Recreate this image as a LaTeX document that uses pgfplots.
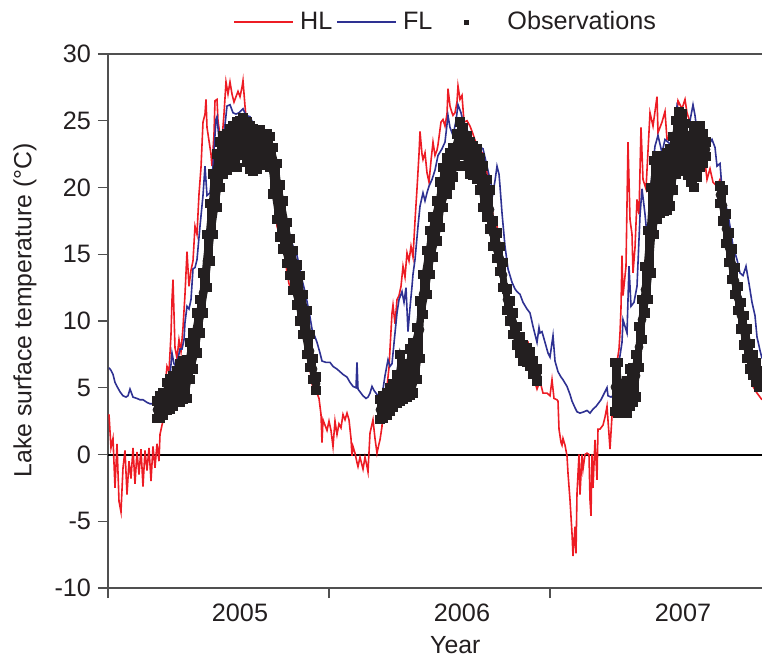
\documentclass[border=0pt]{standalone}
\usepackage{fontspec}
\setmainfont{Liberation Sans}
\usepackage{pgfplots}
\usepackage{pgfplotstable}
\pgfplotsset{compat=1.18}
\definecolor{hlred}{HTML}{ED1C24}
\definecolor{flblue}{HTML}{2E3192}
\definecolor{obsblk}{HTML}{231F20}
\definecolor{axgray}{HTML}{505050}
\pgfplotsset{
  line leg/.style={legend image code/.code={\draw[##1] (0bp,0bp) -- (29.5bp,0bp);}},
  obs leg/.style={legend image code/.code={\path[draw=none,fill=none] (0bp,0bp) -- (32.5bp,0bp); \fill[obsblk] (13.75bp,-1bp) rectangle (15.75bp,1bp);}},
  obsedge/.style={draw=obsblk, line width=1.3bp, mark=square*, mark size=2.1bp,
     mark options={solid, fill=obsblk, draw=obsblk, line width=0pt}, forget plot},
  obsband/.style={obsblk, only marks, mark=none, forget plot,
     error bars/.cd, y dir=both, y explicit, error mark=none,
     error bar style={draw=obsblk, line width=2.6bp}},
}
% x is the horizontal position on the time axis (one year = 221 units)
\pgfplotstableread{
x U L
157 4.0 2.7
160 4.4 2.7
163 4.6 2.9
167 5.4 3.3
170 5.7 3.4
173 5.9 3.6
177 6.3 3.9
180 6.8 3.9
183 7.0 4.1
187 7.1 4.2
190 8.4 5.6
193 9.1 6.4
197 10.6 7.6
200 11.6 9.1
203 13.6 10.6
207 16.5 12.5
210 18.8 14.5
213 21.0 16.5
217 22.5 18.5
220 23.4 20.0
223 23.9 21.0
227 24.0 21.3
230 24.4 22.0
233 24.6 22.2
237 24.9 21.5
240 25.0 22.4
243 25.2 22.4
247 24.9 21.9
250 24.6 21.4
253 24.4 21.2
257 24.3 21.4
260 24.3 21.7
263 24.0 22.0
267 24.0 22.2
270 23.8 21.5
273 23.0 19.5
277 21.8 17.6
280 20.2 16.3
283 19.0 15.4
287 17.4 14.3
290 16.2 13.4
293 15.3 12.3
297 14.2 11.2
300 13.4 10.0
303 12.0 9.0
307 10.8 7.5
310 9.0 6.5
313 7.2 5.6
316 5.8 4.8
}\obsA
\pgfplotstableread{
x U L
380 4.1 2.6
383 4.4 2.7
387 4.6 2.9
390 5.0 3.2
393 5.3 3.5
397 6.0 3.8
400 7.5 4.0
403 6.6 4.1
407 6.8 4.3
410 7.9 4.4
413 8.4 4.6
417 9.5 5.6
420 11.5 7.2
423 13.5 10.5
427 15.3 12.0
430 16.8 13.5
433 17.8 14.8
437 19.0 16.0
440 20.4 17.0
443 21.5 18.5
447 22.2 19.5
450 22.6 20.2
453 23.0 20.8
457 24.0 21.6
460 24.9 22.5
463 24.5 22.4
467 23.9 21.6
470 23.4 21.0
473 23.1 20.9
477 22.9 20.6
480 22.2 19.8
483 21.6 18.5
487 20.6 17.8
490 19.8 16.9
493 17.5 15.6
497 16.6 14.7
500 15.6 13.7
503 14.4 12.5
507 12.4 10.8
510 11.5 10.0
513 10.6 9.0
517 9.6 8.2
520 8.8 7.6
523 8.2 7.0
527 8.0 6.9
530 7.7 6.6
533 7.0 6.0
537 6.4 5.5
}\obsB
\pgfplotstableread{
x U L
615 6.9 3.2
618 6.9 3.1
621 5.3 3.1
624 4.6 3.1
627 5.5 3.1
630 6.4 3.6
633 6.5 3.9
636 7.5 4.3
639 9.6 6.5
642 11.6 8.6
645 14.1 10.6
648 16.8 11.6
651 20.0 13.6
654 22.0 16.5
657 22.4 17.6
660 22.4 18.1
664 22.3 18.2
667 22.6 18.3
670 22.9 18.6
673 23.8 19.8
676 25.0 21.0
679 25.7 21.5
682 25.5 21.6
685 24.8 21.2
688 23.9 20.9
691 23.9 20.4
694 24.6 20.0
697 24.6 20.8
700 24.6 21.5
703 24.0 21.8
706 23.4 22.3
}\obsC
\pgfplotstableread{
x U L
720 20.1 18.8
723 19.8 17.5
726 18.0 15.8
729 16.6 14.4
732 15.4 13.1
735 14.0 12.0
738 12.6 10.8
741 11.4 9.4
744 10.4 8.2
747 9.4 7.2
750 8.3 6.4
753 7.5 5.9
756 6.9 5.4
759 6.3 5.0
}\obsD
\pgfplotstableread{
x y
109 3.0
111 0.5
113 1.2
115 -2.5
117 0.8
119 -3.5
121 -4.3
123 -1.0
125 0.3
127 -3.0
129 -0.5
131 -1.8
133 0.5
135 -2.2
137 0.2
139 -1.5
141 0.4
143 -2.4
145 0.3
147 -1.2
149 0.5
151 -2.0
153 0.6
155 -1.0
157 0.8
159 -0.5
160 1.5
162 2.2
163 2.5
164 4.4
166 5.8
167 6.6
169 6.2
171 9.0
172 11.6
173 13.1
175 8.0
177 7.2
179 8.6
181 7.7
183 9.5
185 12.0
187 15.2
189 12.6
191 13.8
193 14.5
195 17.1
197 16.5
199 19.5
201 21.5
203 24.9
205 25.5
206 26.6
207 24.5
209 23.5
211 22.5
212 21.6
214 24.0
215 26.5
217 26.6
218 25.0
220 23.9
222 23.6
224 25.5
226 27.9
228 27.0
230 27.9
232 27.0
234 26.4
236 26.8
238 27.2
240 26.8
242 27.5
243 28.0
245 26.1
247 24.5
249 25.0
251 24.4
253 24.6
256 24.2
258 24.0
260 23.6
263 23.3
266 23.5
268 23.0
270 22.9
272 21.8
273 20.6
275 19.0
277 17.1
279 16.6
281 16.1
283 15.6
285 14.8
287 13.6
289 12.8
291 12.3
293 12.1
295 11.9
297 11.9
299 11.2
301 11.0
303 10.1
305 9.0
307 8.0
309 7.0
311 5.8
313 4.9
315 4.7
317 4.6
319 4.2
321 3.0
322 0.9
323 2.6
325 2.2
327 1.8
329 2.5
331 1.8
333 0.6
335 2.5
337 1.5
339 2.3
341 2.0
343 3.0
345 2.6
347 3.1
349 2.6
351 1.2
352 -0.1
353 0.6
355 0.1
357 -0.6
358 -0.9
360 -0.2
362 -0.8
363 -1.1
365 -0.2
367 -0.9
368 -1.3
370 1.6
373 2.6
375 1.2
377 0.1
379 0.8
380 1.1
382 2.1
383 4.1
385 4.6
387 5.1
389 6.5
390 7.9
392 10.6
393 11.2
395 9.8
397 11.6
399 11.9
401 12.6
403 14.1
405 13.3
407 15.1
409 14.5
411 15.6
413 14.8
415 17.5
417 19.9
419 22.5
420 24.2
422 22.5
423 22.1
425 22.6
427 21.1
429 20.4
431 22.0
433 23.4
435 22.4
437 22.8
438 23.2
441 24.9
443 25.1
445 24.6
447 25.5
448 27.4
450 26.1
452 25.6
453 25.4
455 25.6
457 26.4
458 27.6
460 26.6
462 26.9
464 24.9
467 25.0
470 24.6
473 24.0
477 23.1
480 22.6
483 22.6
485 22.0
487 21.1
490 19.4
493 17.9
497 17.1
500 15.6
503 13.6
505 12.2
507 10.9
510 10.0
513 9.1
516 8.6
520 8.1
523 7.9
525 8.2
528 8.4
531 7.0
533 5.9
537 4.9
540 5.5
543 4.6
547 4.6
550 4.4
552 5.6
554 4.2
557 4.1
558 4.0
559 1.9
561 0.9
562 0.7
563 1.2
565 0.7
567 -0.1
568 -1.4
570 -3.4
572 -5.9
573 -7.6
575 -5.4
576 -7.4
577 -2.9
579 0.0
580 -3.0
582 0.0
583 -1.1
585 0.0
587 0.1
589 0.0
590 -3.4
591 -4.6
592 0.0
593 -2.5
595 1.1
597 -1.9
598 1.9
600 1.9
603 2.2
605 2.8
607 3.6
609 1.5
610 0.4
612 2.9
613 3.1
615 4.9
617 6.9
619 7.9
620 9.1
621 11.0
622 14.9
623 11.9
626 14.1
628 23.4
630 17.6
632 16.5
633 13.6
635 15.5
637 19.1
639 18.0
641 24.5
643 20.6
646 19.9
650 25.6
653 24.6
657 26.8
658 24.1
662 24.9
665 25.7
667 23.6
670 23.9
673 23.6
677 25.4
678 26.5
682 25.9
685 26.6
687 25.6
690 24.9
693 23.6
697 22.9
700 22.4
703 21.4
705 21.9
707 20.6
710 21.4
713 20.4
717 20.1
720 20.6
722 19.6
725 17.6
728 16.1
731 14.6
733 13.6
737 12.1
740 11.1
743 9.6
747 7.9
750 6.5
753 5.1
757 4.6
762 4.1
}\hldata
\pgfplotstableread{
x y
109 6.5
111 6.3
113 6.0
115 5.4
117 5.1
120 4.7
123 4.4
126 4.3
128 4.4
130 4.9
133 4.3
137 4.2
140 4.1
143 4.1
147 3.9
150 3.8
154 3.8
158 3.9
161 4.1
163 4.4
165 4.7
167 5.1
169 5.6
170 5.9
172 7.6
174 6.8
176 6.6
178 7.2
180 7.9
182 7.9
184 8.6
185 9.9
187 11.1
189 10.9
191 11.6
193 13.9
195 14.0
197 14.6
200 17.1
203 19.4
205 21.6
207 19.4
210 19.6
213 21.6
216 25.1
217 25.3
219 23.6
222 23.6
224 24.0
227 26.1
230 26.2
233 25.6
236 25.5
239 25.6
243 25.9
246 25.4
250 25.3
253 24.8
256 24.6
260 24.2
263 24.5
266 23.8
269 23.6
272 23.4
275 22.1
277 20.6
280 19.1
283 18.2
287 17.1
290 16.4
293 15.6
297 14.9
300 13.9
302 13.1
305 12.2
308 11.1
310 10.3
312 9.4
314 9.0
317 8.4
320 7.6
322 7.0
326 6.9
330 6.9
333 6.6
337 6.4
340 6.2
343 6.0
347 5.8
350 5.4
353 5.1
356 5.0
357 6.9
358 4.9
361 4.6
363 4.4
366 4.2
368 4.3
370 4.6
372 5.1
374 4.8
376 4.6
378 4.4
380 4.5
382 4.4
385 5.9
388 7.1
390 6.6
392 6.8
395 9.1
397 10.6
399 11.6
402 12.2
404 11.4
406 12.5
408 9.2
410 11.0
412 12.6
413 13.5
415 14.6
418 17.1
420 18.6
423 19.6
425 19.0
427 19.6
429 20.1
432 20.6
435 21.3
438 22.4
442 22.9
445 23.4
448 25.4
450 24.5
453 23.9
456 25.0
458 26.2
461 25.6
464 24.6
467 24.3
470 23.9
473 23.6
478 23.1
483 22.9
487 21.6
490 20.6
493 19.6
495 20.5
497 21.6
499 21.0
500 20.1
502 18.1
505 15.6
508 13.9
512 12.9
515 12.4
517 12.2
520 12.0
523 11.4
527 10.9
530 10.6
533 9.6
535 9.0
537 8.4
539 9.5
540 9.1
542 9.2
545 8.4
548 7.6
550 7.3
553 8.9
555 7.0
558 6.2
561 5.8
563 5.6
567 5.1
570 4.5
572 4.0
575 3.5
577 3.2
580 3.1
584 3.2
587 3.3
590 3.1
593 3.4
596 3.6
598 3.8
601 4.1
603 4.4
607 5.0
608 4.4
611 4.3
613 4.4
615 4.6
618 6.6
620 7.4
622 8.4
623 10.1
625 9.6
627 9.1
628 11.6
629 14.1
631 11.1
634 11.4
637 12.6
640 17.9
642 19.9
645 18.0
648 15.6
650 18.5
652 21.1
655 23.1
658 23.9
662 22.6
665 23.6
668 23.4
672 23.1
675 24.4
677 26.1
680 25.4
683 25.6
687 24.6
690 25.0
693 26.2
695 25.4
698 23.6
702 22.4
705 21.9
708 23.1
712 23.6
715 23.0
717 21.6
720 21.8
722 19.9
725 18.9
728 18.0
730 17.1
733 15.6
737 14.6
740 13.6
743 13.4
746 14.1
749 12.8
752 11.4
755 10.4
757 8.8
760 7.8
762 7.2
}\fldata
\begin{document}
\begin{tikzpicture}
\begin{axis}[
  width=327bp, height=267bp, scale only axis,
  xmin=108, xmax=762, ymin=-10, ymax=30,
  axis x line=box, axis y line=left,
  x axis line style={-}, y axis line style={-},
  axis line style={axgray, line width=0.65bp},
  every tick/.style={axgray, line width=0.65bp},
  tick align=outside, major tick length=5bp,
  xtick={108,329,550}, xticklabels={}, xtick pos=bottom, ytick pos=left,
  extra x ticks={240,462,683}, extra x tick labels={2005,2006,2007},
  extra x tick style={major tick length=0pt, tick label style={yshift=-4.5bp}},
  ytick={-10,-5,0,5,10,15,20,25,30},
  yticklabels={-10,-5,0,5,10,15,20,25,30},
  tick label style={font=\fontsize{12.6bp}{14bp}\selectfont, text=obsblk},
  label style={font=\fontsize{12.4bp}{14bp}\selectfont, text=obsblk},
  ylabel={Lake surface temperature (°C)},
  ylabel style={at={(axis description cs:-0.127,0.52)}, anchor=center},
  xlabel={Year},
  xlabel style={at={(axis description cs:0.531,0)}, anchor=north, yshift=-20.5bp},
  legend columns=3,
  legend style={draw=none, fill=none, at={(axis description cs:0.1915,1.06)}, anchor=west,
    inner sep=0pt, font=\fontsize{12.6bp}{14bp}\selectfont, text=obsblk,
    nodes={inner sep=1bp},
    /tikz/every odd column/.style={column sep=2bp},
    /tikz/every even column/.style={column sep=1bp}},
  legend cell align=left,
]
\addplot[black, line width=1bp, forget plot] coordinates {(108,0) (762,0)};
\addplot[hlred, line width=0.8bp, line leg] table[x=x,y=y] {\hldata};
\addlegendentry{HL}
\addplot[flblue, line width=0.8bp, line leg] table[x=x,y=y] {\fldata};
\addlegendentry{FL}
\addlegendimage{obs leg}
\addlegendentry{Observations}
\addplot[obsband] table[x=x, y expr={(\thisrow{U}+\thisrow{L})/2}, y error expr={(\thisrow{U}-\thisrow{L})/2}] {\obsA};
\addplot[obsedge] table[x=x,y=U] {\obsA};
\addplot[obsedge] table[x=x,y=L] {\obsA};
\addplot[obsband] table[x=x, y expr={(\thisrow{U}+\thisrow{L})/2}, y error expr={(\thisrow{U}-\thisrow{L})/2}] {\obsB};
\addplot[obsedge] table[x=x,y=U] {\obsB};
\addplot[obsedge] table[x=x,y=L] {\obsB};
\addplot[obsband] table[x=x, y expr={(\thisrow{U}+\thisrow{L})/2}, y error expr={(\thisrow{U}-\thisrow{L})/2}] {\obsC};
\addplot[obsedge] table[x=x,y=U] {\obsC};
\addplot[obsedge] table[x=x,y=L] {\obsC};
\addplot[obsband] table[x=x, y expr={(\thisrow{U}+\thisrow{L})/2}, y error expr={(\thisrow{U}-\thisrow{L})/2}] {\obsD};
\addplot[obsedge] table[x=x,y=U] {\obsD};
\addplot[obsedge] table[x=x,y=L] {\obsD};
\end{axis}
\pgfresetboundingbox
\path[use as bounding box] (-54bp,-34.5bp) rectangle (327bp,294bp);
\end{tikzpicture}
\end{document}
